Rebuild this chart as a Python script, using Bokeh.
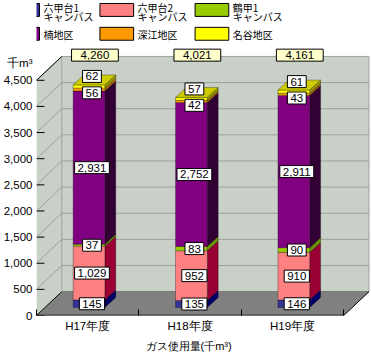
from bokeh.plotting import figure
from bokeh.models import Range1d, LinearAxis, FixedTicker, NumeralTickFormatter, Title
from bokeh.core.properties import value
from bokeh.embed import file_html
from bokeh.resources import INLINE

# ---------------- data ----------------
years = ["H17年度", "H18年度", "H19年度"]
series_names = ["六甲台1\nキャンパス", "六甲台2\nキャンパス", "鶴甲1\nキャンパス",
                "楠地区", "深江地区", "名谷地区"]
rokkodai1 = [145, 135, 146]
rokkodai2 = [1029, 952, 910]
tsurukabuto1 = [37, 83, 90]
kusunoki = [2931, 2752, 2911]
fukae = [56, 42, 43]
myodani = [62, 57, 61]
totals = [4260, 4021, 4161]
y_ticks = [0, 500, 1000, 1500, 2000, 2500, 3000, 3500, 4000, 4500]
y_unit = "千m³"
x_title = "ガス使用量(千m³)"

series_values = [rokkodai1, rokkodai2, tsurukabuto1, kusunoki, fukae, myodani]
front_colors = ["#333399", "#ff8080", "#99cc00", "#800080", "#ff9900", "#ffff00"]
side_colors = ["#000066", "#990033", "#669900", "#330033", "#b36b00", "#999900"]
top_colors = ["#6666cc", "#ffb3b3", "#bbdd33", "#a040a0", "#ffbb55", "#cccc00"]

# ---------------- layout (pixels) ----------------
W, H = 371, 354
LEFT = 33          # frame left (front plane left edge)
BASE = 317         # frame bottom (front plane zero)
UX = 103.33        # px per category
KY = 0.0526        # px per value unit

def xd(px):
    return px / UX

def yd(py):
    return py / KY

def X(px):
    return 0.5 + (px - LEFT) / UX

def Y(py):
    return (BASE - py) / KY

DX, DY = xd(25.5), yd(24)        # depth of the floor / walls
BX0, BY0 = xd(1.3), yd(8)        # bar front plane offset
BDX, BDY = xd(11), yd(10)        # bar depth
HW = xd(16)                      # bar half width
NCAT = len(years)
TOPV = y_ticks[-1]
UNIT_TICK = int(round(Y(63)))

p = figure(width=W, height=H, output_backend="svg", toolbar_location=None,
           x_range=Range1d(0.5, X(W)), y_range=Range1d(0, Y(0)),
           x_axis_type=None, y_axis_type=None,
           min_border_left=LEFT, min_border_right=0, min_border_top=0,
           min_border_bottom=H - BASE)
p.xgrid.visible = False
p.ygrid.visible = False
p.outline_line_color = None
p.background_fill_color = "white"
p.border_fill_color = "white"

WALL = "#c8d0c8"
GRID = "#9aa29a"
x0, x1 = 0.5, 0.5 + NCAT

# back wall
p.quad(left=[x0 + DX], right=[x1 + DX], bottom=[DY], top=[DY + TOPV],
       fill_color=WALL, line_color=None)
# left wall
p.patch(x=[x0, x0, x0 + DX, x0 + DX], y=[0, TOPV, TOPV + DY, DY],
        fill_color=WALL, line_color=None)
# floor
p.patch(x=[x0, x1, x1 + DX, x0 + DX], y=[0, 0, DY, DY],
        fill_color="#808080", line_color=None)

# grid lines on walls
gv = y_ticks[1:]
p.segment(x0=[x0 + DX] * len(gv), x1=[x1 + DX] * len(gv),
          y0=[v + DY for v in gv], y1=[v + DY for v in gv], line_color=GRID, line_width=1)
p.segment(x0=[x0] * len(gv), x1=[x0 + DX] * len(gv),
          y0=gv, y1=[v + DY for v in gv], line_color=GRID, line_width=1)
p.segment(x0=[x0 + DX, x1 + DX], x1=[x0 + DX, x1 + DX], y0=[DY, DY], y1=[DY + TOPV] * 2,
          line_color=GRID, line_width=1)
p.segment(x0=[x0 + DX], x1=[x1 + DX], y0=[DY], y1=[DY], line_color="#707070", line_width=1)
# y tick stubs
p.segment(x0=[x0] * len(y_ticks), x1=[x0 + xd(8)] * len(y_ticks), y0=y_ticks, y1=y_ticks,
          line_color="black", line_width=1)
# dark edges
p.segment(x0=[x0, x0, x1, x0], x1=[x0 + DX, x0 + DX, x1 + DX, x1],
          y0=[TOPV, 0, 0, 0], y1=[TOPV + DY, DY, DY, 0],
          line_color="black", line_width=[1, 1, 1, 1.5])

# ---------------- bars ----------------
fl, fr, fb, ft, fc = [], [], [], [], []
sxs, sys_, sc = [], [], []
txs, tys, tc = [], [], []
lx, ly, lt = [], [], []
for i in range(NCAT):
    c = i + 1 + BX0
    cum = 0
    for j, vals in enumerate(series_values):
        v = vals[i]
        b, t = BY0 + cum, BY0 + cum + v
        fl.append(c - HW); fr.append(c + HW); fb.append(b); ft.append(t); fc.append(front_colors[j])
        sxs.append([c + HW, c + HW + BDX, c + HW + BDX, c + HW])
        sys_.append([b, b + BDY, t + BDY, t])
        sc.append(side_colors[j])
        cum += v
    T = BY0 + cum
    txs.append([c - HW, c + HW, c + HW + BDX, c - HW + BDX])
    tys.append([T, T, T + BDY, T + BDY])
    tc.append(top_colors[-1])

    lab_x = c + xd(3)
    cum = 0
    for j, vals in enumerate(series_values[:4]):
        v = vals[i]
        lx.append(lab_x); ly.append(BY0 + cum + v / 2); lt.append(f"{v:,}")
        cum += v
    top_front = BY0 + cum + fukae[i] + myodani[i]
    ly_orange = top_front - yd(8)
    lx.append(lab_x); ly.append(ly_orange); lt.append(f"{fukae[i]:,}")
    lx.append(lab_x); ly.append(ly_orange + yd(16.5)); lt.append(f"{myodani[i]:,}")

p.patches(xs=sxs, ys=sys_, fill_color=sc, line_color="#000000", line_width=0.5, line_alpha=0.6)
p.quad(left=fl, right=fr, bottom=fb, top=ft, fill_color=fc,
       line_color="#000000", line_width=0.5, line_alpha=0.6)
p.patches(xs=txs, ys=tys, fill_color=tc, line_color="#000000", line_width=0.5, line_alpha=0.6)

p.text(x=lx, y=ly, text=lt, text_align="center", text_baseline="middle",
       text_font=value("Liberation Sans"), text_font_size="11.5px", text_color="black",
       background_fill_color="white", border_line_color="black", border_line_width=1,
       padding=(3, 2))

# totals
p.text(x=[i + 1 + BX0 + xd(6) for i in range(NCAT)], y=[Y(55)] * NCAT,
       text=[f"{t:,}" for t in totals], text_align="center", text_baseline="middle",
       text_font=value("Liberation Sans"), text_font_size="11.5px", text_color="black",
       background_fill_color="#ffffcc", border_line_color="black", border_line_width=1,
       padding=(9, 2))

# ---------------- legend ----------------
col_px = [2, 97, 193]
row_px = [3, 27]
lg_l, lg_r, lg_t, lg_b = [], [], [], []
t_x, t_y, t_s = [], [], []
for k, name in enumerate(series_names):
    r, cidx = divmod(k, 3)
    lg_l.append(X(col_px[cidx])); lg_r.append(X(col_px[cidx] + 34))
    lg_t.append(Y(row_px[r])); lg_b.append(Y(row_px[r] + 13))
    lines = name.split("\n")
    if len(lines) == 1:
        t_x.append(X(col_px[cidx] + 38)); t_y.append(Y(row_px[r] + 7)); t_s.append(lines[0])
    else:
        for n, line in enumerate(lines):
            t_x.append(X(col_px[cidx] + 38)); t_y.append(Y(row_px[r] + 4 + 9.5 * n)); t_s.append(line)
p.quad(left=lg_l, right=lg_r, top=lg_t, bottom=lg_b, fill_color=front_colors,
       line_color="black", line_width=1)
p.text(x=t_x, y=t_y, text=t_s, text_align="left", text_baseline="middle",
       text_font=value("Noto Sans CJK JP"), text_font_size="10px", text_color="black")

# ---------------- axes ----------------
yaxis = LinearAxis(ticker=FixedTicker(ticks=y_ticks + [UNIT_TICK]),
                   formatter=NumeralTickFormatter(format="0,0"),
                   major_label_overrides={UNIT_TICK: y_unit},
                   axis_line_color=None, major_tick_in=0, major_tick_out=0,
                   major_tick_line_color=None, minor_tick_line_color=None,
                   minor_tick_in=0, minor_tick_out=0,
                   major_label_standoff=4, major_label_text_font="Liberation Sans",
                   major_label_text_font_size="11.5px", major_label_text_color="black")
p.add_layout(yaxis, "left")

xaxis = LinearAxis(ticker=FixedTicker(ticks=[1, 2, 3], minor_ticks=[0.5, 1.5, 2.5, 3.5]),
                   major_label_overrides={1: years[0], 2: years[1], 3: years[2]},
                   axis_line_color=None, major_tick_line_color=None,
                   major_tick_in=0, major_tick_out=0,
                   minor_tick_in=6, minor_tick_out=0, minor_tick_line_color="black",
                   major_label_standoff=4, major_label_text_font="Liberation Sans",
                   major_label_text_font_size="11.5px", major_label_text_color="black")
p.add_layout(xaxis, "below")

p.add_layout(Title(text=x_title, align="left", offset=109, standoff=6,
                   text_font="Liberation Sans", text_font_size="11px",
                   text_font_style="normal", text_color="black"), "below")

open("out.html", "w").write(file_html(p, INLINE))
